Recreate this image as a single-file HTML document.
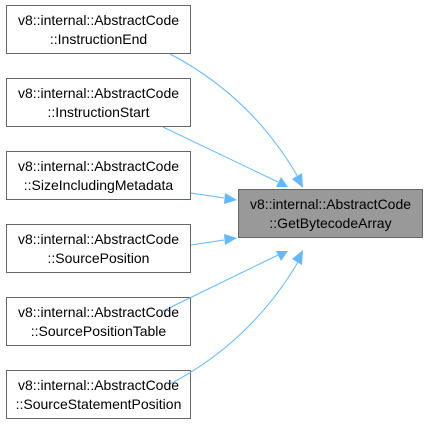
<!DOCTYPE html>
<html><head><style>body{margin:0;background:#fff}</style></head><body>
<svg width="427" height="426" xmlns="http://www.w3.org/2000/svg" font-family="Liberation Sans, DejaVu Sans, sans-serif" font-size="14">
<g fill="#fff" stroke="#666" stroke-width="1">
<rect x="6.5" y="5.5" width="184" height="48"/>
<rect x="6.5" y="78.5" width="184" height="48"/>
<rect x="6.5" y="151.5" width="184" height="48"/>
<rect x="6.5" y="224.5" width="184" height="48"/>
<rect x="6.5" y="297.5" width="184" height="48"/>
<rect x="6.5" y="370.5" width="184" height="48"/>
<rect x="238.5" y="189.5" width="184" height="48" fill="#999"/>
</g>
<g fill="none" stroke="#63b8ff" stroke-width="1">
<path d="M170,54 C220,80 265,120 298,177"/>
<path d="M163,127 L278,182"/>
<path d="M191,193 L224,198"/>
<path d="M191,245 L224,240"/>
<path d="M163,311 L278,255"/>
<path d="M170,384 C220,358 265,318 298,262"/>
</g>
<g fill="#63b8ff">
<polygon points="303,188 292,179 302,173"/>
<polygon points="288,187 276,187 281,177"/>
<polygon points="237,200 224,204 225,193"/>
<polygon points="237,238 225,245 224,234"/>
<polygon points="288,251 281,261 276,251"/>
<polygon points="303,250 302,265 292,259"/>
</g>
<g text-anchor="middle" fill="#000">
<text x="98.5" y="25">v8::internal::AbstractCode</text><text x="98.5" y="44">::InstructionEnd</text>
<text x="98.5" y="98">v8::internal::AbstractCode</text><text x="98.5" y="117">::InstructionStart</text>
<text x="98.5" y="171">v8::internal::AbstractCode</text><text x="98.5" y="190">::SizeIncludingMetadata</text>
<text x="98.5" y="244">v8::internal::AbstractCode</text><text x="98.5" y="263">::SourcePosition</text>
<text x="98.5" y="317">v8::internal::AbstractCode</text><text x="98.5" y="336">::SourcePositionTable</text>
<text x="98.5" y="390">v8::internal::AbstractCode</text><text x="98.5" y="409">::SourceStatementPosition</text>
<text x="330.5" y="209">v8::internal::AbstractCode</text><text x="330.5" y="228">::GetBytecodeArray</text>
</g>
</svg>
</body></html>
